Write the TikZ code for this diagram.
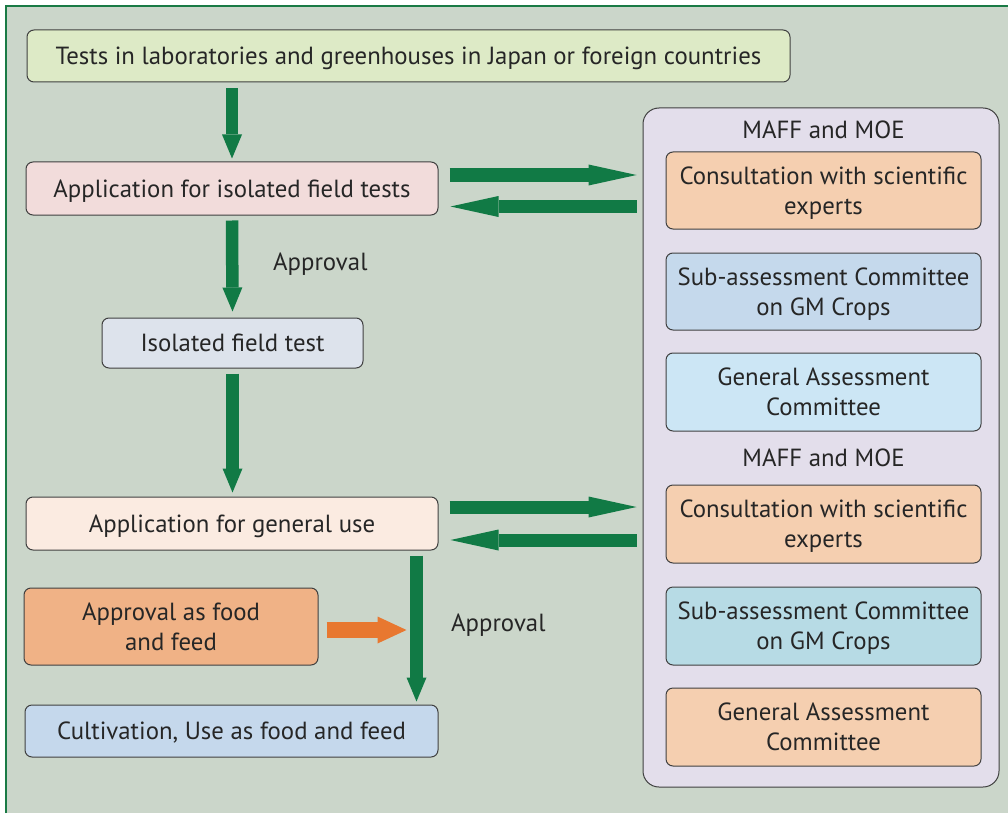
\documentclass[tikz,border=0pt]{standalone}
\usepackage{fontspec}
\setmainfont{PT Sans}
\usetikzlibrary{arrows.meta,calc}
\definecolor{bg}{HTML}{CBD6CA}
\definecolor{frameg}{HTML}{1A7A45}
\definecolor{arrowg}{HTML}{117A45}
\definecolor{arrowo}{HTML}{E87830}
\definecolor{cTop}{HTML}{DDEAC6}
\definecolor{cApp}{HTML}{F2DCDB}
\definecolor{cIso}{HTML}{DDE3EC}
\definecolor{cGen}{HTML}{FBEBE1}
\definecolor{cFood}{HTML}{F0B286}
\definecolor{cCult}{HTML}{C5D8EC}
\definecolor{cPanel}{HTML}{E3DEEB}
\definecolor{cCons}{HTML}{F5CFB0}
\definecolor{cSub}{HTML}{C5D9EC}
\definecolor{cGA}{HTML}{CCE6F5}
\definecolor{cSubB}{HTML}{B7DBE5}
\tikzset{
  box/.style={draw=black!75, line width=1pt, rounded corners=7pt, align=center,
    inner sep=0pt, text depth=-1pt, font=\fontsize{24.8}{30}\selectfont, text=black!85},
  lbl/.style={font=\fontsize{24.8}{30}\selectfont, text=black!85, inner sep=0pt},
  garrow/.style={draw=arrowg, line width=13pt, -{Triangle[length=48pt,width=21pt,line width=0pt]}},
  gvarrow/.style={draw=arrowg, line width=12.5pt, -{Triangle[length=24pt,width=20pt,line width=0pt]}},
  oarrow/.style={draw=arrowo, line width=16pt, -{Triangle[length=29pt,width=27pt,line width=0pt]}},
}
\begin{document}
\begin{tikzpicture}[x=1pt,y=-1pt]
\useasboundingbox (0,0) rectangle (1008,813);
\fill[white] (0,0) rectangle (1008,813);
\fill[bg] (6,6) rectangle (1008,813);
\draw[frameg, line width=1.5pt] (6,813) -- (6,6) -- (1008,6);

\node[box, fill=cTop, minimum width=763pt, minimum height=52pt] (top) at (408.5,56)
  {Tests in laboratories and greenhouses in Japan or foreign countries};
\node[box, fill=cApp, minimum width=412pt, minimum height=53pt] (app1) at (232,188.5)
  {Application for isolated field tests};
\node[box, fill=cIso, minimum width=261pt, minimum height=50pt] (iso) at (232.5,343)
  {Isolated field test};
\node[box, fill=cGen, minimum width=412pt, minimum height=53pt] (app2) at (232,523.5)
  {Application for general use};
\node[box, fill=cFood, minimum width=294pt, minimum height=77pt] (food) at (171,626.5)
  {Approval as food\\and feed};
\node[box, fill=cCult, minimum width=413pt, minimum height=52pt] (cult) at (231.5,731)
  {Cultivation, Use as food and feed};

\node[draw=black!75, line width=1pt, rounded corners=16pt, fill=cPanel,
  minimum width=356pt, minimum height=679pt, inner sep=0pt] (panel) at (821,447.5) {};
\node[lbl] (maff1) at (823.5,130) {MAFF and MOE};
\node[box, fill=cCons, minimum width=315pt, minimum height=77pt] (cons1) at (823.5,190.5)
  {Consultation with scientific\\experts};
\node[box, fill=cSub, minimum width=315pt, minimum height=77pt] (sub1) at (823.5,291.5)
  {Sub-assessment Committee\\on GM Crops};
\node[box, fill=cGA, minimum width=315pt, minimum height=78pt] (ga1) at (823.5,392)
  {General Assessment\\Committee};
\node[lbl] (maff2) at (823.5,458) {MAFF and MOE};
\node[box, fill=cCons, minimum width=315pt, minimum height=78pt] (cons2) at (823.5,524)
  {Consultation with scientific\\experts};
\node[box, fill=cSubB, minimum width=315pt, minimum height=78pt] (sub2) at (823.5,626)
  {Sub-assessment Committee\\on GM Crops};
\node[box, fill=cCons, minimum width=315pt, minimum height=78pt] (ga2) at (823.5,727)
  {General Assessment\\Committee};

\node[lbl, anchor=west] (appr1) at (273,264) {Approval};
\node[lbl, anchor=west] (appr2) at (451,625) {Approval};

% vertical flow
\draw[gvarrow] ($(top.south -| app1)+(0,6)$) -- ($(app1.north)+(0,-3)$);
\draw[gvarrow] ($(app1.south)+(0,5)$) -- ($(iso.north)+(0,-6)$);
\draw[gvarrow] ($(iso.south)+(0,5)$) -- ($(app2.north -| iso)+(0,-4)$);
\draw[gvarrow] ($(app2.south)+(184.5,5)$) -- ($(cult.north)+(185,-3)$);

% horizontal exchanges
\draw[garrow] ($(app1.east)+(11,-13.5)$) -- ($(app1.east -| panel.west)+(-6,-13.5)$);
\draw[garrow] ($(app1.east -| panel.west)+(-6,18)$) -- ($(app1.east)+(12,18)$);
\draw[garrow] ($(app2.east)+(11,-16.5)$) -- ($(app2.east -| panel.west)+(-6,-16.5)$);
\draw[garrow] ($(app2.east -| panel.west)+(-6,16.5)$) -- ($(app2.east)+(12,16.5)$);

% orange
\draw[oarrow] ($(food.east)+(8,3.5)$) -- ($(food.east -| app2.east)+(-32,3.5)$);
\end{tikzpicture}
\end{document}
